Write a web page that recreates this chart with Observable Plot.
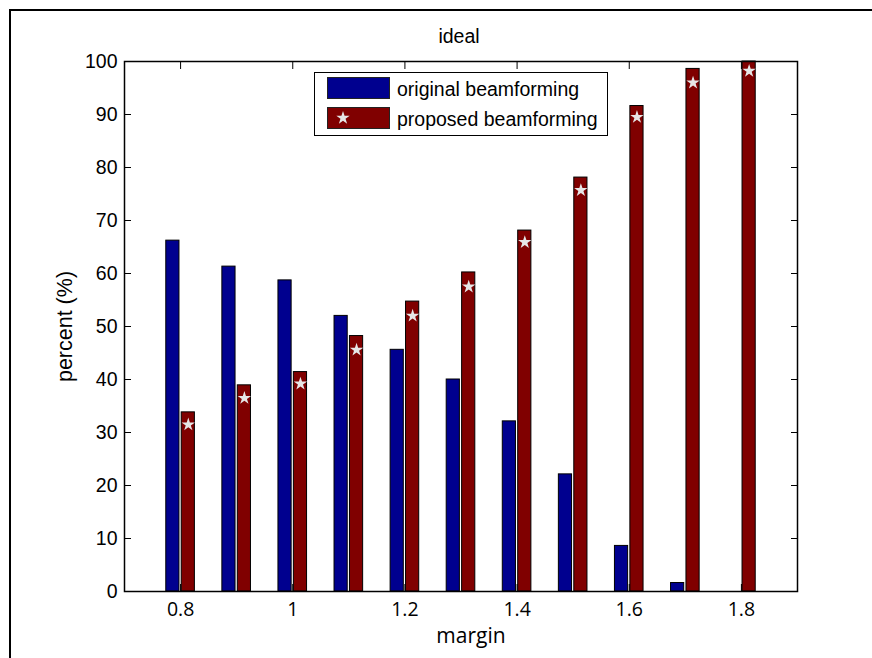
<!DOCTYPE html>
<html>
<head>
<meta charset="utf-8">
<script src="https://cdn.jsdelivr.net/npm/d3@7"></script>
<script src="https://cdn.jsdelivr.net/npm/@observablehq/plot@0.6"></script>
<style>
  html, body { margin: 0; padding: 0; background: #fff; }
  #wrap { position: relative; width: 872px; height: 658px; overflow: hidden; background: #fff; }
  #border { position: absolute; left: 9px; top: 9px; width: 900px; height: 700px; border-left: 2px solid #000; border-top: 2px solid #000; box-sizing: border-box; pointer-events: none; }
  #legend { position: absolute; left: 314px; top: 72px; }
</style>
</head>
<body>
<div id="wrap">
  <div id="border"></div>
  <div id="chart"></div>
  <svg id="legend" width="295" height="65"></svg>
</div>
<script>
// ---- data ----
const margins = [0.8, 0.9, 1.0, 1.1, 1.2, 1.3, 1.4, 1.5, 1.6, 1.7, 1.8];
const original = [66.2, 61.3, 58.7, 52.0, 45.6, 40.0, 32.1, 22.1, 8.6, 1.6, 0];
const proposed = [33.8, 38.9, 41.4, 48.2, 54.7, 60.2, 68.1, 78.1, 91.6, 98.6, 100];
const proposedMarker = [31.5, 36.5, 39.2, 45.6, 52.0, 57.5, 65.9, 75.7, 89.5, 96.0, 98.2];
const xTicks = [0.8, 1, 1.2, 1.4, 1.6, 1.8];
const yTicks = [0, 10, 20, 30, 40, 50, 60, 70, 80, 90, 100];
const seriesNames = ["original beamforming", "proposed beamforming"];
const seriesColors = ["#00008f", "#800000"];
const titleText = "ideal";
const xLabel = "margin";
const yLabel = "percent (%)";

const rows = margins.map((m, i) => ({ m, orig: original[i], prop: proposed[i], mark: proposedMarker[i] }));
const gap = 0.002, bw = 0.0235;
const starFill = "#e6e6e6";
const sans = "'Liberation Sans', Arial, sans-serif";

const chart = Plot.plot({
  width: 872,
  height: 658,
  marginLeft: 124,
  marginRight: 75,
  marginTop: 61,
  marginBottom: 67,
  style: { fontFamily: sans, fontSize: "19.5px", background: "transparent", color: "#000" },
  x: { domain: [0.7, 1.9] },
  y: { domain: [0, 100] },
  marks: [
    Plot.rect(rows.filter(d => d.orig > 0), {
      x1: d => d.m - gap - bw, x2: d => d.m - gap, y1: d => 0, y2: "orig",
      fill: seriesColors[0], stroke: "#000", strokeWidth: 1
    }),
    Plot.rect(rows, {
      x1: d => d.m + gap, x2: d => d.m + gap + bw, y1: d => 0, y2: "prop",
      fill: seriesColors[1], stroke: "#000", strokeWidth: 1
    }),
    Plot.dot(rows, { x: d => d.m + gap + bw / 2, y: "mark", symbol: "star", r: 4.2, fill: starFill, stroke: "none" }),
    Plot.frame({ stroke: "#000", strokeWidth: 1.5 }),
    Plot.axisY({ anchor: "left", ticks: yTicks, tickSize: -7, tickPadding: 14, tickFormat: d => String(d), label: null, fontSize: 19.5, fontFamily: sans }),
    Plot.axisY({ anchor: "right", ticks: yTicks, tickSize: -7, tickFormat: () => "", label: null }),
    Plot.axisX({ anchor: "bottom", ticks: xTicks, tickSize: -7, tickPadding: 18, tickFormat: d => String(d), label: null, fontFamily: "'Open Sans', sans-serif", fontSize: 19.5 }),
    Plot.axisX({ anchor: "top", ticks: xTicks, tickSize: -7, tickFormat: () => "", label: null }),
    Plot.text([titleText], { frameAnchor: "top", text: d => d, dy: -32, dx: -2, lineAnchor: "top", textAnchor: "middle", fontSize: 19.5, fontFamily: sans }),
    Plot.text([xLabel], { frameAnchor: "bottom", text: d => d, dy: 37, dx: 10, lineAnchor: "top", textAnchor: "middle", fontSize: 21, fontFamily: "'Open Sans', sans-serif" }),
    Plot.text([yLabel], { frameAnchor: "left", text: d => d, dx: -59, rotate: -90, lineAnchor: "middle", textAnchor: "middle", fontSize: 21.5, fontFamily: sans })
  ]
});
document.getElementById("chart").appendChild(chart);

// ---- legend (inside the axes, like the original) ----
const lg = d3.select("#legend");
lg.append("rect").attr("x", 0.5).attr("y", 0.5).attr("width", 293).attr("height", 63)
  .attr("fill", "#fff").attr("stroke", "#000").attr("stroke-width", 1);
const rowsY = [5, 35];
seriesNames.forEach((name, i) => {
  lg.append("rect").attr("x", 13.5).attr("y", rowsY[i] + 0.5).attr("width", 62).attr("height", 21)
    .attr("fill", seriesColors[i]).attr("stroke", "#222").attr("stroke-width", 1);
  lg.append("text").attr("x", 83).attr("y", rowsY[i] + 19).text(name)
    .attr("font-family", sans).attr("font-size", 19.5).attr("fill", "#000");
});
lg.append("path").attr("d", d3.symbol(d3.symbolStar, Math.PI * 4.2 * 4.2)())
  .attr("transform", `translate(29,${rowsY[1] + 11})`).attr("fill", starFill);
</script>
</body>
</html>
